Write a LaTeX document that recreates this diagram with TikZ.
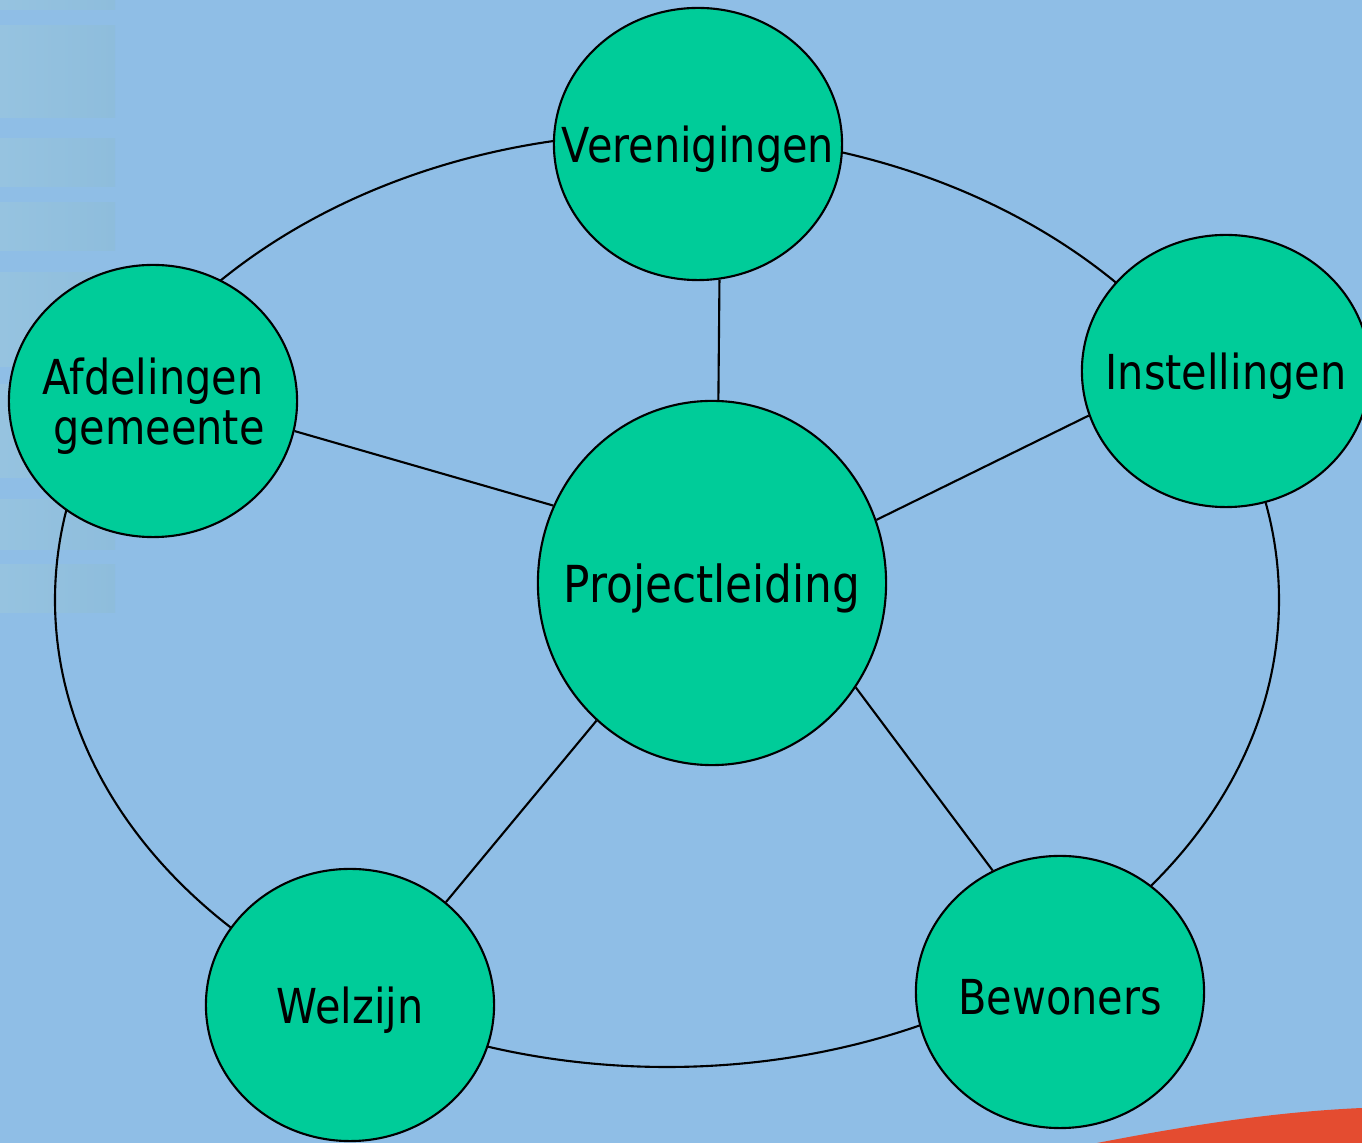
\documentclass[tikz,border=0pt]{standalone}
\usepackage{fontspec}
\setmainfont[FakeStretch=0.86]{DejaVu Sans}
\usepackage{tikz}
\usetikzlibrary{shapes.geometric}
\definecolor{colorbg}{RGB}{143,190,230}
\definecolor{colorstripl}{RGB}{150,195,224}
\definecolor{colorstripr}{RGB}{142,189,220}
\definecolor{colornode}{RGB}{0,204,153}
\definecolor{colorred}{RGB}{228,76,48}

\begin{document}
\begin{tikzpicture}[x=0.01cm,y=-0.01cm]

    \tikzset{
    % circles of the network and the text inside them
    orgnode/.style={ellipse, draw, fill=colornode, line width=0.6pt, inner sep=0,
        minimum width=2.88cm, minimum height=2.72cm},
    leadnode/.style={orgnode, minimum width=3.48cm, minimum height=3.64cm},
    orgtext/.style={font=\fontsize{13.7pt}{14.2pt}\selectfont, align=center, inner sep=0, yshift=-0.05cm},
    link/.style={line width=0.6pt}
    }

    % background
    \fill[colorbg] (0,0) rectangle (1362,1143);
    \useasboundingbox (0,0) rectangle (1362,1143);

    \foreach \ya/\yb in {0/10, 26/118, 139/187, 203/251, 273/367, 385/478, 500/550, 565/613}
        \shade[left color=colorstripl, right color=colorstripr] (0,\ya) rectangle (115,\yb);

    \fill[colorred] (1097,1143) .. controls (1180,1127) and (1270,1112) .. (1362,1108)
        -- (1362,1143) -- cycle;

    % outer ring
    \coordinate (ringc) at (667,600);
    \draw[link] (ringc) ellipse [x radius=612, y radius=467];

    \node[orgnode, label={[orgtext]center:Verenigingen}] (ver) at (698,144) {};
    \node[orgnode, label={[orgtext]center:Afdelingen\\\hspace{0.12cm}gemeente}] (afd) at (153,401) {};
    \node[orgnode, label={[orgtext]center:Instellingen}] (ins) at (1226,371) {};
    \node[orgnode, label={[orgtext]center:Welzijn}] (wel) at (350,1005) {};
    \node[orgnode, label={[orgtext]center:Bewoners}] (bew) at (1060,992) {};
    \node[leadnode, label={[orgtext, font=\fontsize{14.5pt}{15pt}\selectfont]center:Projectleiding}] (pro) at (712,583) {};

    \draw[link] (pro.88) -- (ver.-81);
    \draw[link] (pro.154) -- (afd.-12);
    \draw[link] (pro.21) -- (ins.-162);
    \draw[link] (pro.230) -- (wel.47);
    \draw[link] (pro.-36) -- (bew.119);

\end{tikzpicture}
\end{document}
